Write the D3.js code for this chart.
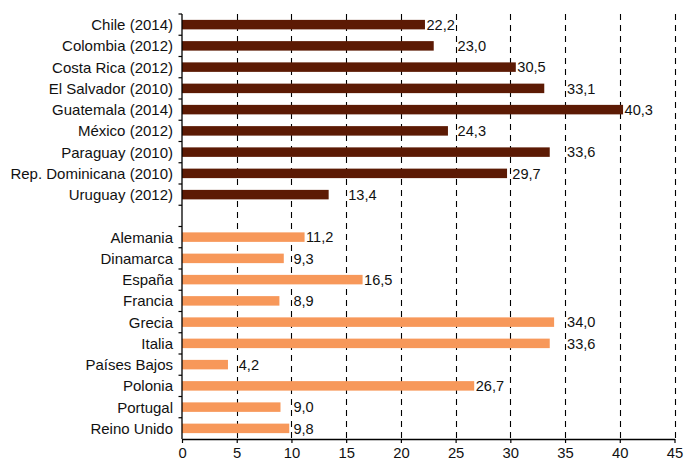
<!DOCTYPE html>
<html>
<head>
<meta charset="utf-8">
<script src="https://cdn.jsdelivr.net/npm/d3@7"></script>
<style>
  html, body { margin: 0; padding: 0; background: #fff; }
  svg { display: block; font-family: "Liberation Sans", Arial, sans-serif; }
</style>
</head>
<body>
<svg id="chart" width="684" height="461"></svg>
<script>
const latamCategories = ["Chile (2014)", "Colombia (2012)", "Costa Rica (2012)", "El Salvador (2010)", "Guatemala (2014)", "México (2012)", "Paraguay (2010)", "Rep. Dominicana (2010)", "Uruguay (2012)"];
const latamValues = [22.2, 23.0, 30.5, 33.1, 40.3, 24.3, 33.6, 29.7, 13.4];
const europeCategories = ["Alemania", "Dinamarca", "España", "Francia", "Grecia", "Italia", "Países Bajos", "Polonia", "Portugal", "Reino Unido"];
const europeValues = [11.2, 9.3, 16.5, 8.9, 34.0, 33.6, 4.2, 26.7, 9.0, 9.8];
const xTicks = [0, 5, 10, 15, 20, 25, 30, 35, 40, 45];

const colorLatam = "#5c1a04";
const colorEurope = "#f7985a";

const svg = d3.select("#chart");
const margin = { top: 14, right: 9.5, bottom: 22, left: 182 };
const W = 684, H = 461;
const innerW = W - margin.left - margin.right;
const innerH = 439 - margin.top;

const rows = [];
latamCategories.forEach((c, i) => rows.push({ key: "L" + i, label: c, value: latamValues[i], color: colorLatam }));
rows.push({ key: "gap", label: "", value: null, color: null });
europeCategories.forEach((c, i) => rows.push({ key: "E" + i, label: c, value: europeValues[i], color: colorEurope }));

const x = d3.scaleLinear().domain([0, 45]).range([0, innerW]);
const y = d3.scaleBand().domain(rows.map(r => r.key)).range([0, innerH]).padding(0);

const g = svg.append("g").attr("transform", `translate(${margin.left},${margin.top})`);

// dashed gridlines
g.append("g").selectAll("line").data(xTicks.filter(t => t > 0)).join("line")
  .attr("x1", d => Math.round(x(d)) + 0.5).attr("x2", d => Math.round(x(d)) + 0.5)
  .attr("y1", 0).attr("y2", innerH)
  .attr("stroke", "#000").attr("stroke-width", 1.1).attr("stroke-dasharray", "6,5");

// bars
const barH = 9.5;
const dataRows = rows.filter(r => r.value !== null);
g.append("g").selectAll("rect").data(dataRows).join("rect")
  .attr("x", 0)
  .attr("y", d => y(d.key) + y.bandwidth() / 2 - barH / 2)
  .attr("width", d => x(d.value))
  .attr("height", barH)
  .attr("fill", d => d.color);

// x axis
const xAxis = g.append("g").attr("transform", `translate(0,${innerH})`)
  .call(d3.axisBottom(x).tickValues(xTicks).tickSize(4).tickSizeOuter(0).tickFormat(d3.format("d")));
xAxis.select(".domain").attr("stroke", "#000").attr("stroke-width", 1.3);
xAxis.selectAll(".tick line").attr("stroke", "#000").attr("stroke-width", 1.2);
xAxis.selectAll(".tick text").attr("font-size", "14.8px").attr("fill", "#111").attr("y", 8.5)
  .attr("font-family", "'Liberation Sans', Arial, sans-serif");

// y axis line and tick marks at band boundaries
const yBoundaries = rows.map(r => y(r.key));
g.append("line").attr("x1", 0).attr("x2", 0).attr("y1", 0).attr("y2", innerH)
  .attr("stroke", "#000").attr("stroke-width", 1.3);
g.append("g").selectAll("line").data(yBoundaries).join("line")
  .attr("x1", -3.5).attr("x2", 0)
  .attr("y1", d => d).attr("y2", d => d)
  .attr("stroke", "#000").attr("stroke-width", 1.2);

// category labels
g.append("g").selectAll("text").data(rows.filter(r => r.label)).join("text")
  .attr("x", -9)
  .attr("y", d => y(d.key) + y.bandwidth() / 2)
  .attr("dy", "0.36em")
  .attr("text-anchor", "end")
  .attr("font-size", "15px")
  .attr("fill", "#111")
  .text(d => d.label);

// value labels, moved past a gridline when they would cross it
const fmt = v => d3.format(".1f")(v).replace(".", ",");
const labels = g.append("g").selectAll("text").data(dataRows).join("text")
  .attr("y", d => y(d.key) + y.bandwidth() / 2)
  .attr("dy", "0.36em")
  .attr("font-size", "14.6px")
  .attr("fill", "#111")
  .text(d => fmt(d.value));
labels.each(function(d) {
  const w = this.getComputedTextLength();
  let px = x(d.value) + 1.5;
  const next = xTicks.find(t => t > d.value);
  if (next !== undefined) {
    const gx = x(next);
    if (px + w > gx + 0.8) px = gx + 2;
  }
  d3.select(this).attr("x", px);
});
</script>
</body>
</html>
